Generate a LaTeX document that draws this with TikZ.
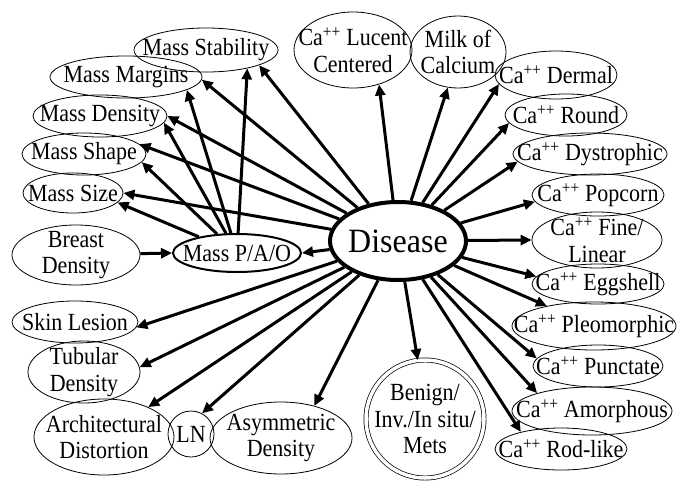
\documentclass[tikz,border=0pt]{standalone}
\usepackage{fontspec}
\setmainfont{Liberation Serif}
\usetikzlibrary{shapes.geometric,arrows.meta}
\tikzset{
  ell/.style={draw, ellipse, line width=0.8pt, inner sep=0pt},
  lbl/.style={font=\fontsize{22}{23.5}\selectfont, align=center, inner sep=0pt, yscale=1.12, transform shape},
  arr/.style={line width=3pt, -{Triangle[length=11pt,width=10pt]}},
}
\newcommand\ca{Ca\textsuperscript{++}}
\begin{document}
\begin{tikzpicture}[x=1pt,y=-1pt]
\useasboundingbox (0,0) rectangle (677,482);
% central
\node[ell, line width=4pt, minimum width=136pt, minimum height=78pt,
  label={[lbl, font=\fontsize{32}{36}\selectfont, yscale=0.95]center:Disease}] (dis) at (398,241) {};
\node[ell, line width=2pt, minimum width=128pt, minimum height=38pt,
  label={[lbl]center:Mass P/A/O}] (pao) at (237,253) {};
% mass attributes
\node[ell, minimum width=144pt, minimum height=44pt, label={[lbl]center:Mass Stability}] (mst) at (206,50) {};
\node[ell, minimum width=152pt, minimum height=42pt, label={[lbl]center:Mass Margins}] (mmg) at (126,77) {};
\node[ell, minimum width=134pt, minimum height=42pt, label={[lbl]center:Mass Density}] (mdn) at (100,116) {};
\node[ell, minimum width=124pt, minimum height=42pt, label={[lbl]center:Mass Shape}] (msh) at (84,154) {};
\node[ell, minimum width=100pt, minimum height=40pt, label={[lbl]center:Mass Size}] (msz) at (73,193) {};
\node[ell, minimum width=128pt, minimum height=60pt, label={[lbl]center:Breast\\Density}] (bd) at (76,255) {};
% lower left
\node[ell, minimum width=126pt, minimum height=42pt, label={[lbl]center:Skin Lesion}] (skin) at (75,322) {};
\node[ell, minimum width=112pt, minimum height=62pt, label={[lbl]center:Tubular\\Density}] (tub) at (84,372) {};
\node[ell, minimum width=140pt, minimum height=76pt, label={[lbl]center:Architectural\\Distortion}] (arch) at (104,437) {};
\node[ell, circle, minimum size=46pt, label={[lbl]center:LN}] (ln) at (191,434) {};
\node[ell, minimum width=142pt, minimum height=72pt, label={[lbl]center:Asymmetric\\Density}] (asym) at (281,438) {};
\node[draw, circle, line width=0.7pt, double, double distance=3.5pt, minimum size=118pt, inner sep=0pt,
  label={[lbl]center:Benign/\\Inv./In situ/\\Mets}] (ben) at (425,419) {};
% calcifications
\node[ell, minimum width=118pt, minimum height=76pt, label={[lbl]center:\ca{} Lucent\\Centered}] (luc) at (353,50) {};
\node[ell, minimum width=96pt, minimum height=72pt, label={[lbl]center:Milk of\\Calcium}] (milk) at (458,52) {};
\node[ell, minimum width=122pt, minimum height=48pt, label={[lbl]center:\ca{} Dermal}] (derm) at (556,75) {};
\node[ell, minimum width=122pt, minimum height=42pt, label={[lbl]center:\ca{} Round}] (round) at (566,115) {};
\node[ell, minimum width=154pt, minimum height=42pt, label={[lbl]center:\ca{} Dystrophic}] (dys) at (590,154) {};
\node[ell, minimum width=132pt, minimum height=42pt, label={[lbl]center:\ca{} Popcorn}] (pop) at (598,195) {};
\node[ell, minimum width=130pt, minimum height=56pt, label={[lbl]center:\ca{} Fine/\\Linear}] (fine) at (597,240) {};
\node[ell, minimum width=132pt, minimum height=40pt, label={[lbl]center:\ca{} Eggshell}] (egg) at (598,284) {};
\node[ell, minimum width=164pt, minimum height=48pt, label={[lbl]center:\ca{} Pleomorphic}] (pleo) at (594,326) {};
\node[ell, minimum width=130pt, minimum height=42pt, label={[lbl]center:\ca{} Punctate}] (punc) at (598,366) {};
\node[ell, minimum width=160pt, minimum height=48pt, label={[lbl]center:\ca{} Amorphous}] (amor) at (592,411) {};
\node[ell, minimum width=132pt, minimum height=42pt, label={[lbl]center:\ca{} Rod-like}] (rod) at (561,449) {};
% arrows
\draw[arr] (dis) -- (mst.-16.6);
\draw[arr] (pao) -- (mst.-24.8);
\draw[arr] (dis) -- (mmg.-2.3);
\draw[arr] (pao) -- (mmg.-12.8);
\draw[arr] (dis) -- (mdn.east);
\draw[arr] (pao) -- (mdn.-6.3);
\draw[arr] (dis) -- (msh.10);
\draw[arr] (pao) -- (msh.-8.6);
\draw[arr] (dis) -- (msz.east);
\draw[arr] (pao) -- (msz.-12.5);
\draw[arr] (dis) -- (pao.east);
\draw[arr] (bd) -- (pao.west);
\draw[arr] (dis) -- (luc.-53.4);
\draw[arr] (dis) -- (milk.-106.9);
\draw[arr] (dis) -- (derm.189.8);
\draw[arr] (dis) -- (round.188.4);
\draw[arr] (dis) -- (dys.186.8);
\draw[arr] (dis) -- (pop.186.1);
\draw[arr] (dis) -- (fine.west);
\draw[arr] (dis) -- (egg.173.5);
\draw[arr] (dis) -- (pleo.157.7);
\draw[arr] (dis) -- (punc.173);
\draw[arr] (dis) -- (amor.162);
\draw[arr] (dis) -- (rod.157.6);
\draw[arr] (dis) -- (ben.97.9);
\draw[arr] (dis) -- (skin.-5.5);
\draw[arr] (dis) -- (tub.5);
\draw[arr] (dis) -- (arch.34.9);
\draw[arr] (dis) -- (ln.62.4);
\draw[arr] (dis) -- (asym.44);
\end{tikzpicture}
\end{document}
